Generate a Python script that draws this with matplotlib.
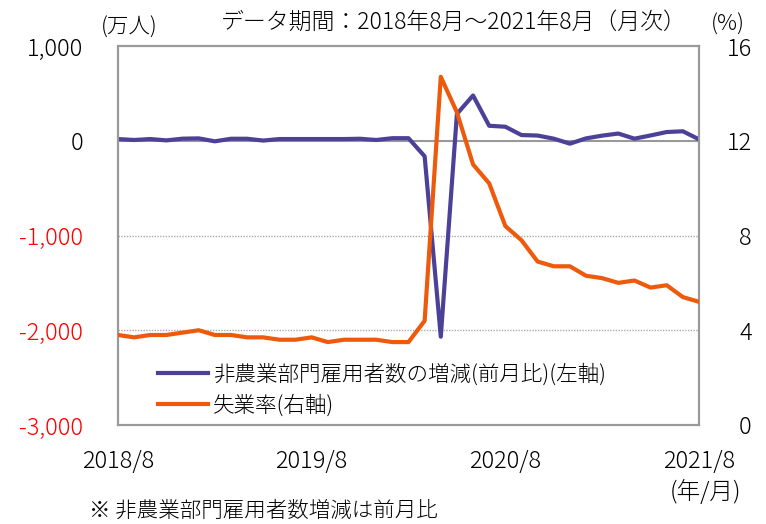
import numpy as np
import matplotlib
matplotlib.use('Agg')
import matplotlib.pyplot as plt

plt.rcParams['font.family'] = ['Noto Sans CJK JP', 'DejaVu Sans']
plt.rcParams['font.weight'] = 'light'

# monthly, 2018/8 - 2021/8
months = ['2018/8', '2018/9', '2018/10', '2018/11', '2018/12',
          '2019/1', '2019/2', '2019/3', '2019/4', '2019/5', '2019/6',
          '2019/7', '2019/8', '2019/9', '2019/10', '2019/11', '2019/12',
          '2020/1', '2020/2', '2020/3', '2020/4', '2020/5', '2020/6',
          '2020/7', '2020/8', '2020/9', '2020/10', '2020/11', '2020/12',
          '2021/1', '2021/2', '2021/3', '2021/4', '2021/5', '2021/6',
          '2021/7', '2021/8']

# nonfarm payrolls change (10k persons)
payrolls = [18, 8, 18, 4, 22, 25, -6, 21, 21, 2, 18, 18, 18, 18, 18, 21, 8,
            27, 27, -164, -2068, 283, 478, 158, 148, 60, 55, 22, -31,
            25, 54, 76, 22, 56, 92, 100, 15]

# unemployment rate (%)
unemp = [3.8, 3.7, 3.8, 3.8, 3.9, 4.0, 3.8, 3.8, 3.7, 3.7, 3.6, 3.6, 3.7,
         3.5, 3.6, 3.6, 3.6, 3.5, 3.5, 4.4, 14.7, 13.2, 11.0, 10.2, 8.4,
         7.8, 6.9, 6.7, 6.7, 6.3, 6.2, 6.0, 6.1, 5.8, 5.9, 5.4, 5.2]

left_ticks = [1000, 0, -1000, -2000, -3000]
left_labels = ['1,000', '0', '-1,000', '-2,000', '-3,000']
right_ticks = [16, 12, 8, 4, 0]
xtick_idx = [0, 12, 24, 36]

purple = '#4B4199'
orange = '#EE5A0C'
grey = '#999999'

fig = plt.figure(figsize=(7.66, 5.24), dpi=100)
ax = fig.add_axes([118/766, 1-425/524, (699-118)/766, (425-46)/524])
x = np.arange(len(months))

ax.set_xlim(0, len(months)-1)
ax.set_ylim(-3000, 1000)
ax.axhline(0, color=grey, lw=1.5, zorder=1)
for v in [-1000, -2000]:
    ax.axhline(v, color='#aaaaaa', lw=1, ls=(0, (1, 1)), zorder=1)

l1, = ax.plot(x, payrolls, color=purple, lw=3, zorder=3,
              label='非農業部門雇用者数の増減(前月比)(左軸)')

ax2 = ax.twinx()
ax2.set_ylim(0, 16)
l2, = ax2.plot(x, unemp, color=orange, lw=3, zorder=3, label='失業率(右軸)')

for a in (ax, ax2):
    for s in a.spines.values():
        s.set_color(grey)
        s.set_linewidth(1.5)

ax.set_yticks(left_ticks)
ax.set_yticklabels(left_labels)
ax.tick_params(axis='y', length=0, pad=25, labelsize=17)
for lab, v in zip(ax.get_yticklabels(), left_ticks):
    lab.set_color('red' if v < 0 else 'black')

ax2.set_yticks(right_ticks)
ax2.set_yticklabels([str(v) for v in right_ticks], ha='right')
ax2.tick_params(axis='y', length=0, pad=38, labelsize=17)

ax.set_xticks(xtick_idx)
ax.set_xticklabels([months[i] for i in xtick_idx])
ax.tick_params(axis='x', length=0, pad=17, labelsize=17)

ax2.legend(handles=[l1, l2], loc='center left', bbox_to_anchor=(0.069, 0.093),
           frameon=False, fontsize=15.5, handlelength=2.33, handletextpad=0.2,
           labelspacing=0.4, borderaxespad=0, borderpad=0)

fig.text(129/766, 1-28/524, '(万人)', ha='center', va='center', fontsize=15.5)
fig.text(454/766, 1-22/524, 'データ期間：2018年8月～2021年8月（月次）',
         ha='center', va='center', fontsize=16.5)
fig.text(728/766, 1-25/524, '(%)', ha='center', va='center', fontsize=16)
fig.text(705/766, 1-492/524, '(年/月)', ha='center', va='center', fontsize=17)
fig.text(89/766, 1-511/524, '※ 非農業部門雇用者数増減は前月比',
         ha='left', va='center', fontsize=15.5)

fig.savefig('out.png', dpi=100)
